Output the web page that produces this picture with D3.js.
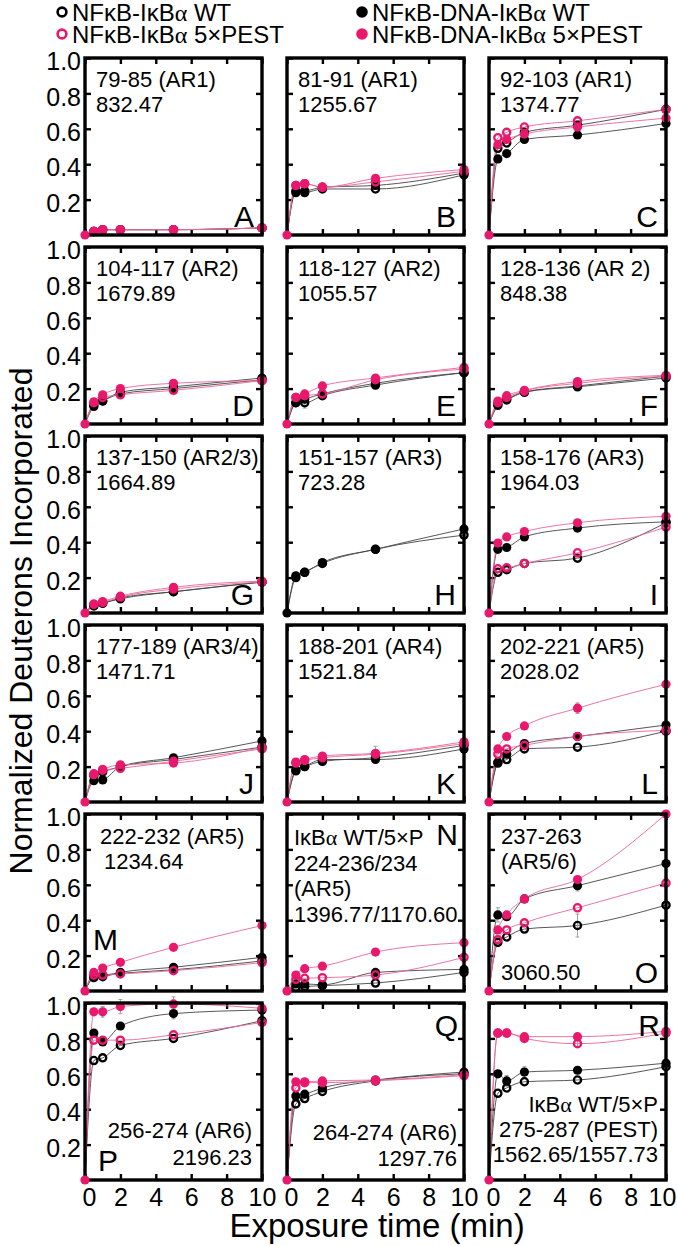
<!DOCTYPE html>
<html><head><meta charset="utf-8">
<script src="https://cdn.jsdelivr.net/npm/d3@7"></script>
<style>
body{margin:0;background:#fff}
svg{display:block}
text{font-family:"Liberation Sans",Arial,Helvetica,sans-serif;fill:#000}
</style>
</head><body>
<svg id="chart" width="677" height="1246"></svg>
<script>
// ---------------- data ----------------
const times = [0, 0.5, 1, 2, 5, 10];
const xTicks = [0, 2, 4, 6, 8, 10];
const yTicks = [0.2, 0.4, 0.6, 0.8, 1.0];
const panelLetters = ["A","B","C","D","E","F","G","H","I","J","K","L","M","N","O","P","Q","R"];
const panelText = [
  ["79-85 (AR1)","832.47"],
  ["81-91 (AR1)","1255.67"],
  ["92-103 (AR1)","1374.77"],
  ["104-117 (AR2)","1679.89"],
  ["118-127 (AR2)","1055.57"],
  ["128-136 (AR 2)","848.38"],
  ["137-150 (AR2/3)","1664.89"],
  ["151-157 (AR3)","723.28"],
  ["158-176 (AR3)","1964.03"],
  ["177-189 (AR3/4)","1471.71"],
  ["188-201 (AR4)","1521.84"],
  ["202-221 (AR5)","2028.02"],
  ["222-232 (AR5)","1234.64"],
  ["I\u03baB\u03b1 WT/5\u00d7P","224-236/234","(AR5)","1396.77/1170.60"],
  ["237-263","(AR5/6)","3060.50"],
  ["256-274 (AR6)","2196.23"],
  ["264-274 (AR6)","1297.76"],
  ["I\u03baB\u03b1 WT/5\u00d7P","275-287 (PEST)","1562.65/1557.73"]
];
// values at t = 0.5, 1, 2, 5, 10 min (t = 0 is 0)
const freeWT = [ // NFkB-IkBa WT (open black)
  [0.02,0.03,0.03,0.03,0.04],[0.24,0.24,0.26,0.26,0.34],[0.49,0.52,0.58,0.62,0.71],
  [0.10,0.13,0.17,0.20,0.25],[0.12,0.12,0.16,0.22,0.29],[0.11,0.14,0.18,0.21,0.26],
  [0.04,0.055,0.08,0.12,0.175],[0.20,0.23,0.28,0.36,0.44],[0.23,0.245,0.28,0.31,0.51],
  [0.15,0.17,0.20,0.24,0.31],[0.18,0.20,0.23,0.25,0.32],[0.22,0.24,0.30,0.31,0.40],
  [0.08,0.09,0.10,0.12,0.17],[0.02,0.025,0.03,0.045,0.105],[0.275,0.305,0.35,0.37,0.485],
  [0.675,0.69,0.76,0.80,0.90],[0.43,0.46,0.50,0.56,0.60],[0.49,0.52,0.555,0.565,0.64]
];
const free5P = [ // NFkB-IkBa 5xPEST (open pink)
  [0.02,0.03,0.03,0.03,0.04],[0.28,0.29,0.27,0.30,0.36],[0.55,0.58,0.61,0.645,0.71],
  [0.12,0.15,0.165,0.19,0.245],[0.15,0.16,0.17,0.25,0.31],[0.12,0.15,0.185,0.23,0.27],
  [0.05,0.06,0.09,0.135,0.175],null,[0.25,0.255,0.28,0.34,0.485],
  [0.155,0.18,0.19,0.23,0.30],[0.22,0.235,0.25,0.27,0.33],[0.27,0.30,0.32,0.37,0.405],
  [0.09,0.09,0.096,0.115,0.16],[0.066,0.072,0.075,0.09,0.19],[0.29,0.345,0.385,0.47,0.61],
  [0.79,0.79,0.79,0.82,0.89],[0.52,0.55,0.55,0.56,0.59],[0.83,0.83,0.80,0.77,0.83]
];
const dnaWT = [ // NFkB-DNA-IkBa WT (filled black)
  [0.02,0.03,0.03,0.03,0.04],[0.25,0.25,0.27,0.28,0.35],[0.43,0.46,0.54,0.565,0.63],
  [0.11,0.13,0.18,0.21,0.26],[0.12,0.14,0.17,0.23,0.29],[0.105,0.135,0.18,0.215,0.27],
  [0.045,0.055,0.085,0.12,0.175],[0.21,0.23,0.285,0.36,0.475],[0.36,0.37,0.43,0.48,0.515],
  [0.12,0.125,0.20,0.25,0.345],[0.175,0.20,0.24,0.24,0.30],[0.225,0.27,0.33,0.37,0.435],
  [0.075,0.08,0.105,0.134,0.19],[0.04,0.04,0.035,0.105,0.122],[0.43,0.42,0.52,0.595,0.72],
  [0.83,0.78,0.87,0.94,0.96],[0.475,0.485,0.52,0.565,0.61],[0.60,0.56,0.61,0.62,0.66]
];
const dna5P = [ // NFkB-DNA-IkBa 5xPEST (filled pink)
  [0.02,0.03,0.03,0.03,0.04],[0.28,0.29,0.27,0.32,0.37],[0.51,0.54,0.57,0.61,0.66],
  [0.125,0.165,0.20,0.23,0.245],[0.15,0.17,0.215,0.26,0.32],[0.13,0.16,0.19,0.24,0.275],
  [0.05,0.065,0.095,0.145,0.18],null,[0.395,0.43,0.46,0.51,0.546],
  [0.16,0.185,0.21,0.22,0.31],[0.226,0.24,0.26,0.275,0.34],[0.30,0.37,0.43,0.53,0.665],
  [0.105,0.13,0.162,0.247,0.37],[0.09,0.126,0.14,0.22,0.273],[0.345,0.43,0.52,0.63,1.0],
  [0.95,0.95,0.98,0.995,0.97],[0.555,0.555,0.56,0.565,0.595],[0.83,0.83,0.81,0.81,0.84]
];
// error bars: [panel index, series key, time index (into values), half-range]
const errorBars = [
  [4,"freeWT",1,0.03],[10,"dna5P",3,0.04],[11,"dna5P",3,0.03],[11,"freeWT",2,0.02],
  [14,"freeWT",3,0.065],[14,"dnaWT",0,0.04],[14,"dnaWT",3,0.03],[14,"dnaWT",2,0.02],
  [15,"dna5P",1,0.03],[15,"dna5P",2,0.04],[15,"dna5P",3,0.04],[15,"dnaWT",3,0.03],
  [17,"dnaWT",1,0.03],[17,"dnaWT",2,0.03],[17,"free5P",3,0.02]
];
const legendLabels = ["NF\u03baB-I\u03baB\u03b1 WT","NF\u03baB-DNA-I\u03baB\u03b1 WT","NF\u03baB-I\u03baB\u03b1 5\u00d7PEST","NF\u03baB-DNA-I\u03baB\u03b1 5\u00d7PEST"];

// ---------------- styles ----------------
const PINK = "#e8196c";
const dataByKey = {freeWT, free5P, dnaWT, dna5P};
const series = [
  {key: "dnaWT",  color: "#000", filled: true,  line: "#444"},
  {key: "freeWT", color: "#000", filled: false, line: "#444"},
  {key: "dna5P",  color: PINK,   filled: true,  line: "#e8669a"},
  {key: "free5P", color: PINK,   filled: false, line: "#e8669a"}
];

// text helper: render greek alpha in a serif face like the original
function richText(sel, s) {
  s.split(/(\u03b1)/).forEach(part => {
    if (!part) return;
    const t = sel.append("tspan").text(part);
    if (part === "\u03b1") t.attr("font-family", '"Liberation Serif","Times New Roman",serif');
  });
  return sel;
}

const svg = d3.select("#chart");
const W = 177, H = 177;
const colX = [85, 287, 489];
const rowY = [58, 247, 436, 625, 814, 1003];
const x = d3.scaleLinear().domain([0, 10]).range([0, W]);
const y = d3.scaleLinear().domain([0, 1]).range([H, 0]);
const line = d3.line().x(d => x(d[0])).y(d => y(d[1])).curve(d3.curveMonotoneX);

panelLetters.forEach((L, i) => {
  const c = i % 3, r = Math.floor(i / 3);
  const g = svg.append("g").attr("transform", `translate(${colX[c]},${rowY[r]})`);

  // axes (inward ticks on all sides)
  const left = d3.axisLeft(y).tickValues(yTicks).tickSizeInner(-6).tickSizeOuter(0).tickPadding(4)
     .tickFormat(c === 0 ? d3.format(".1f") : () => "");
  const right = d3.axisRight(y).tickValues(yTicks).tickSizeInner(-6).tickSizeOuter(0).tickFormat(() => "");
  const bottom = d3.axisBottom(x).tickValues(xTicks).tickSizeInner(-6).tickSizeOuter(0).tickPadding(8)
     .tickFormat(r === 5 ? d3.format("d") : () => "");
  const top = d3.axisTop(x).tickValues(xTicks).tickSizeInner(-6).tickSizeOuter(0).tickFormat(() => "");
  const axG = [];
  [[left, "translate(0,0)"], [right, `translate(${W},0)`], [bottom, `translate(0,${H})`], [top, "translate(0,0)"]]
    .forEach(([ax, tr]) => {
      const a = g.append("g").attr("transform", tr).call(ax);
      a.select(".domain").remove();
      a.selectAll("line").attr("stroke", "#000").attr("stroke-width", 2.4);
      a.selectAll("text").attr("font-size", 25).attr("font-family", '"Liberation Sans",Arial,sans-serif').attr("fill", "#000");
      axG.push(a);
    });
  axG[0].selectAll("text").attr("dy", "0.47em");
  if (r === 5) {
    axG[2].selectAll("text").attr("dx", d => d === 0 ? 4 : (d === 10 && c === 2 ? -4 : 0));
  }

  // fitted lines
  series.forEach(s => {
    const v = dataByKey[s.key][i];
    if (!v) return;
    const pts = times.map((t, k) => [t, k === 0 ? 0 : v[k - 1]]);
    g.append("path").attr("d", line(pts)).attr("fill", "none")
      .attr("stroke", s.line).attr("stroke-width", 0.9);
  });
  // error bars
  errorBars.filter(e => e[0] === i).forEach(([pi, key, k, e]) => {
    const v = dataByKey[key][i][k], tx = x(times[k + 1]);
    g.append("line").attr("x1", tx).attr("x2", tx).attr("y1", y(v - e)).attr("y2", y(v + e))
      .attr("stroke", "#999").attr("stroke-width", 0.9);
    [v - e, v + e].forEach(b => g.append("line").attr("x1", tx - 2).attr("x2", tx + 2)
      .attr("y1", y(b)).attr("y2", y(b)).attr("stroke", "#999").attr("stroke-width", 0.9));
  });
  // markers
  series.forEach(s => {
    const v = dataByKey[s.key][i];
    if (!v) return;
    g.selectAll(null).data(times.slice(1).map((t, k) => [t, v[k]])).enter().append("circle")
      .attr("cx", d => x(d[0])).attr("cy", d => y(d[1]))
      .attr("r", s.filled ? 4.6 : 3.6)
      .attr("fill", s.filled ? s.color : "none")
      .attr("stroke", s.color).attr("stroke-width", s.filled ? 0 : 2.3);
  });

  // frame
  g.append("rect").attr("width", W).attr("height", H).attr("fill", "none")
    .attr("stroke", "#000").attr("stroke-width", 3.4);

  // origin point (drawn on top of frame)
  const originColor = dna5P[i] ? PINK : "#000";
  g.append("circle").attr("cx", x(0)).attr("cy", y(0)).attr("r", 4.6).attr("fill", originColor);

  // annotation text
  const txt = panelText[i];
  const fs = 22;
  const addT = (s, tx, ty, anchor) => richText(g.append("text").attr("x", tx).attr("y", ty)
    .attr("text-anchor", anchor || "start").attr("font-size", fs), s);
  const letter = (tx, ty, anchor) => g.append("text").attr("x", tx).attr("y", ty)
    .attr("text-anchor", anchor).attr("font-size", 30).text(L);

  if (L === "M") {
    addT(txt[0], 15, 30); addT(txt[1], 19, 55);
    letter(8, H - 41, "start");
  } else if (L === "N") {
    txt.forEach((s, k) => addT(s, 7, 31 + k * 25.5));
    letter(W - 6, 31, "end");
  } else if (L === "O") {
    addT(txt[0], 12, 30); addT(txt[1], 12, 55); addT(txt[2], 12, H - 11);
    letter(W - 8, H - 8, "end");
  } else if (L === "P") {
    addT(txt[0], W - 10, H - 42, "end"); addT(txt[1], W - 10, H - 15, "end");
    letter(13, H - 9, "start");
  } else if (L === "Q") {
    addT(txt[0], W - 7, H - 40, "end"); addT(txt[1], W - 7, H - 14, "end");
    letter(W - 6, 33, "end");
  } else if (L === "R") {
    txt.forEach((s, k) => addT(s, W - 8, H - 68 + k * 25, "end"));
    letter(W - 6, 33, "end");
  } else {
    addT(txt[0], 11, 29); addT(txt[1], 11, 54);
    letter(W - 8, H - 8, "end");
  }
});

// axis titles
svg.append("text").attr("x", 377).attr("y", 1237).attr("text-anchor", "middle")
  .attr("font-size", 33).text("Exposure time (min)");
svg.append("text").attr("transform", "translate(32,621) rotate(-90)").attr("text-anchor", "middle")
  .attr("font-size", 32).text("Normalized Deuterons Incorporated");

// legend
const legPos = [[62, 12], [362, 12], [62, 34], [362, 34]];
const legStyle = [[false, "#000"], [true, "#000"], [false, PINK], [true, PINK]];
legendLabels.forEach((lab, k) => {
  const [lx, ly] = legPos[k];
  const [filled, col] = legStyle[k];
  svg.append("circle").attr("cx", lx).attr("cy", ly).attr("r", filled ? 5.8 : 4.4)
    .attr("fill", filled ? col : "none").attr("stroke", col).attr("stroke-width", filled ? 0 : 2.6);
  richText(svg.append("text").attr("x", lx + 10).attr("y", ly + 9).attr("font-size", 24), lab);
});
</script>
</body></html>
